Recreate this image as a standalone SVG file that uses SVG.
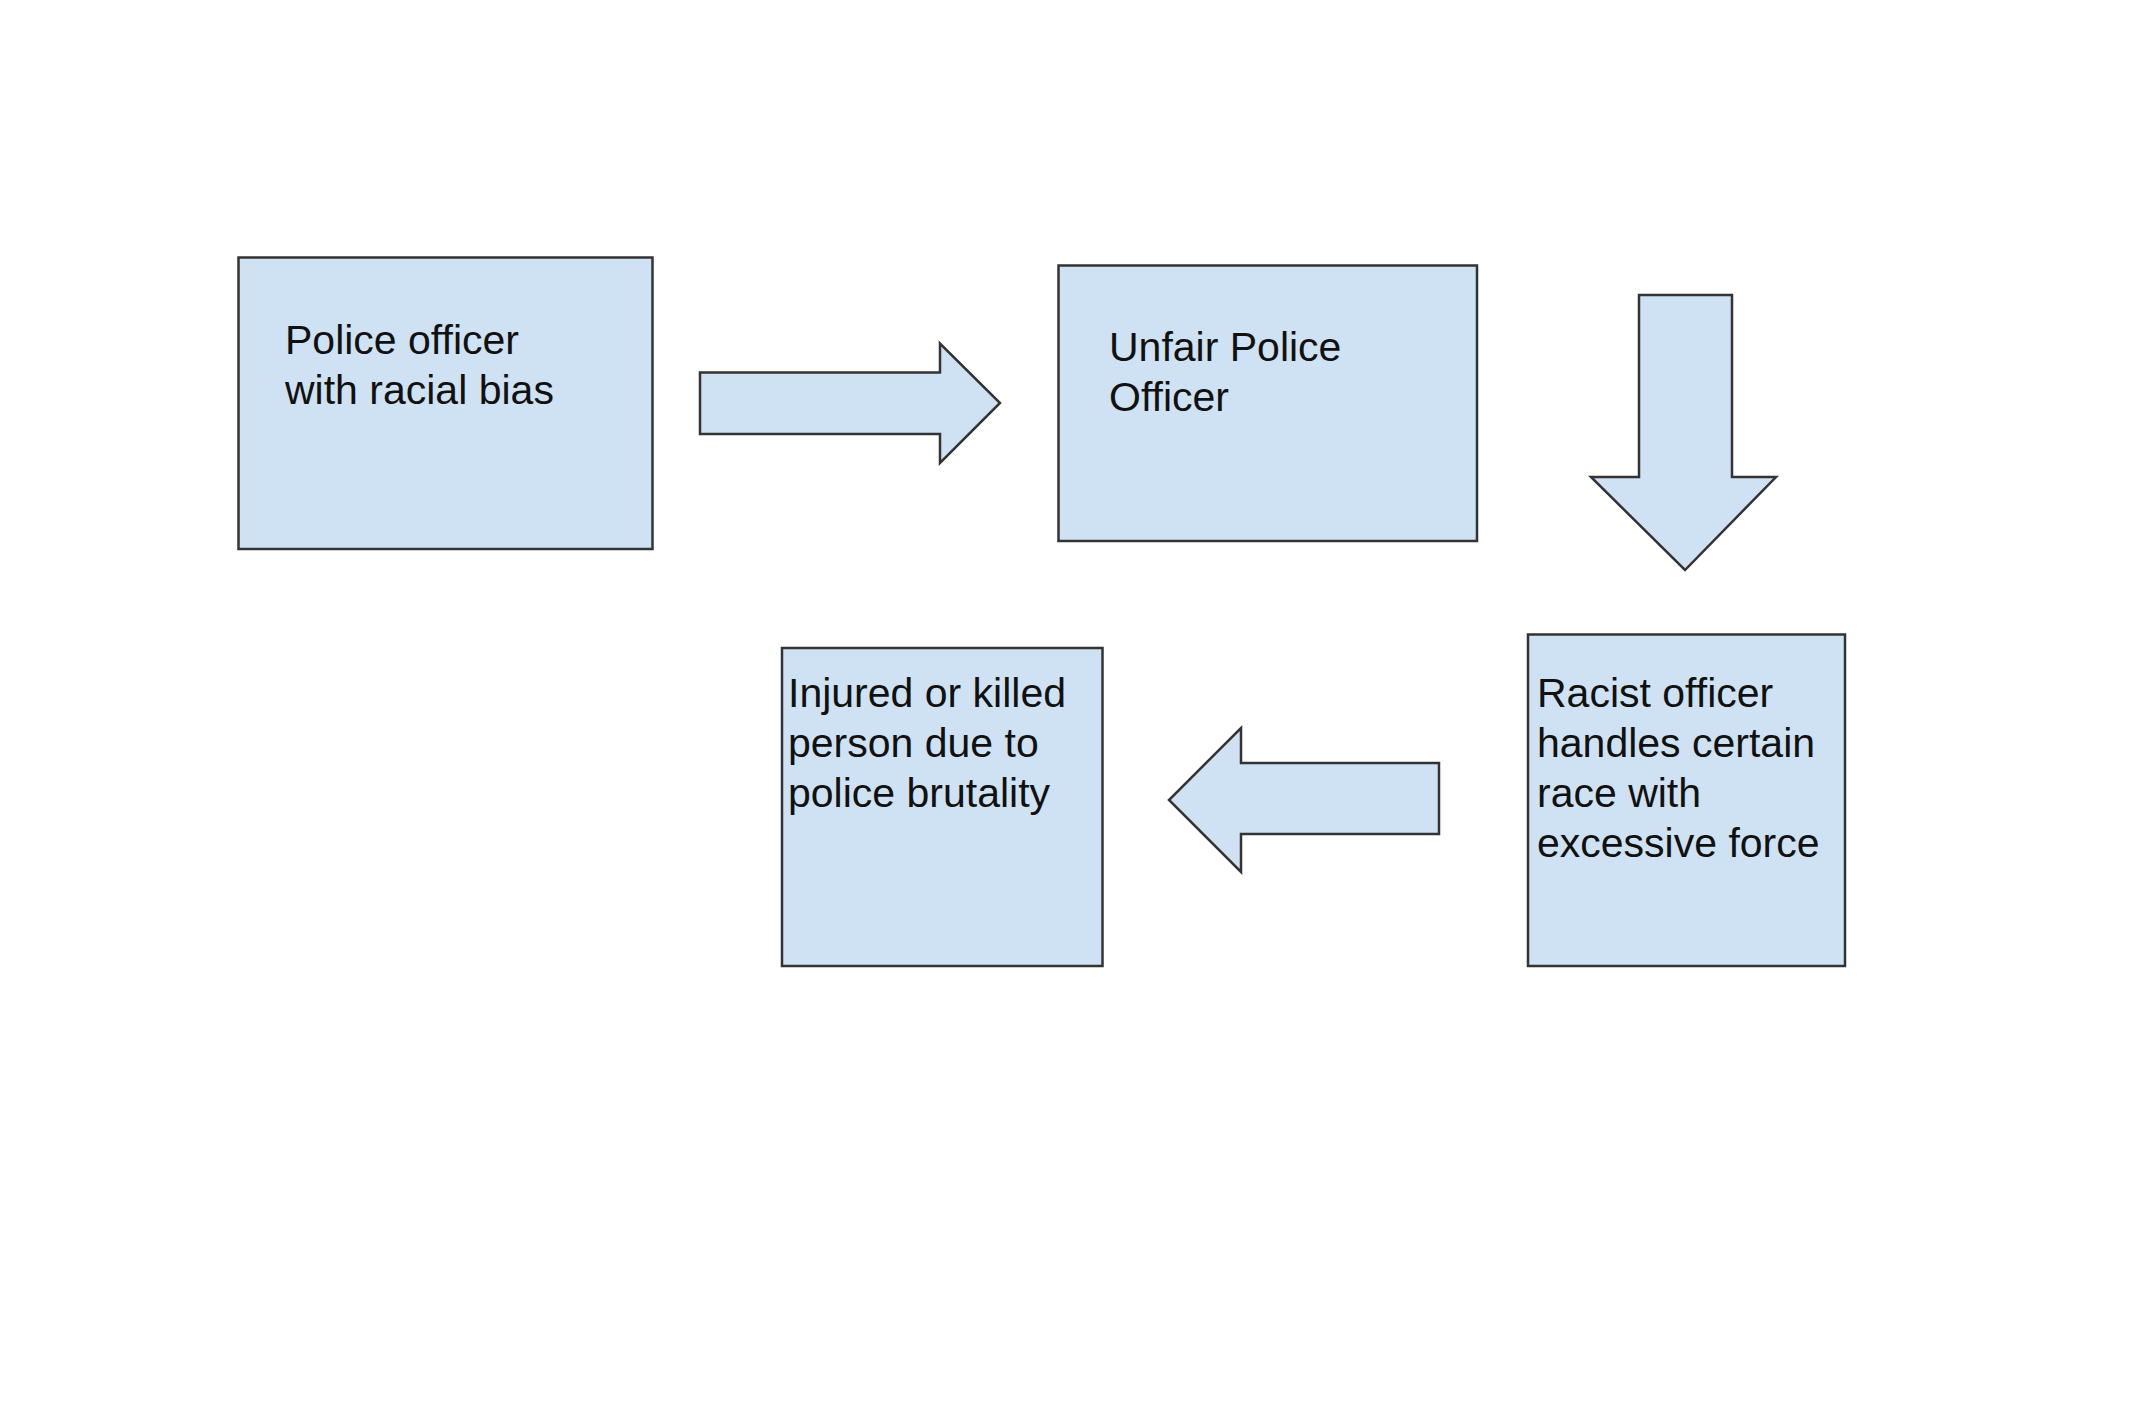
<svg xmlns="http://www.w3.org/2000/svg" width="2136" height="1414" viewBox="0 0 2136 1414">
<style>
.box{fill:#cfe2f3;stroke:#333333;stroke-width:2.5}
.arr{fill:#cfe2f3;stroke:#333333;stroke-width:2.5;stroke-linejoin:miter}
.t{font-family:"Liberation Sans",Arial,sans-serif;font-size:41px;fill:#111111}
</style>
<rect width="2136" height="1414" fill="#ffffff"/>
<g id="node-police-officer">
<rect class="box" x="238.5" y="257.5" width="414" height="291.5"/>
<text class="t" x="285" y="354">Police officer</text>
<text class="t" x="285" y="404">with racial bias</text>
</g>
<g id="node-unfair-officer">
<rect class="box" x="1058.5" y="265.5" width="418.5" height="275.5"/>
<text class="t" x="1109" y="361">Unfair Police</text>
<text class="t" x="1109" y="411">Officer</text>
</g>
<g id="node-racist-officer">
<rect class="box" x="1528" y="634.5" width="317" height="331.5"/>
<text class="t" x="1537" y="707">Racist officer</text>
<text class="t" x="1537" y="757">handles certain</text>
<text class="t" x="1537" y="807">race with</text>
<text class="t" x="1537" y="857">excessive force</text>
</g>
<g id="node-injured">
<rect class="box" x="782" y="648" width="320.5" height="318"/>
<text class="t" x="788" y="707">Injured or killed</text>
<text class="t" x="788" y="757">person due to</text>
<text class="t" x="788" y="807">police brutality</text>
</g>
<g id="connectors">
<polygon class="arr" points="700,372.5 940,372.5 940,343.5 1000,403 940,463 940,434 700,434"/>
<polygon class="arr" points="1639,295 1732,295 1732,477 1776,477 1685,570 1591,477 1639,477"/>
<polygon class="arr" points="1439,763 1241,763 1241,728 1169,800 1241,872 1241,834 1439,834"/>
</g>
</svg>
